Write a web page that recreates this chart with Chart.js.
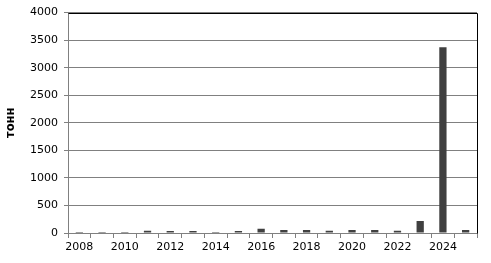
<!DOCTYPE html>
<html>
<head>
<meta charset="utf-8">
<script src="https://cdn.jsdelivr.net/npm/chart.js@4"></script>
<style>
  html, body { margin: 0; padding: 0; background: #fff; }
  #wrap { width: 491px; height: 263px; }
</style>
</head>
<body>
<div id="wrap"><canvas id="myChart" width="491" height="263"></canvas></div>
<script>
const years = ["2008","2009","2010","2011","2012","2013","2014","2015","2016","2017","2018","2019","2020","2021","2022","2023","2024","2025"];
const tonnes = [20, 18, 20, 40, 38, 35, 18, 35, 75, 55, 55, 40, 55, 55, 40, 220, 3370, 55];
const yTicks = [0, 500, 1000, 1500, 2000, 2500, 3000, 3500, 4000];

// black frame on top and right like the original plot area
const framePlugin = {
  id: "frame",
  afterDraw(chart) {
    const { ctx, chartArea: a } = chart;
    ctx.save();
    ctx.strokeStyle = "#000";
    ctx.lineWidth = 1;
    ctx.beginPath();
    ctx.moveTo(Math.round(a.left) + 0.5, Math.round(a.top) + 0.5);
    ctx.lineTo(Math.round(a.right) + 0.5, Math.round(a.top) + 0.5);
    ctx.lineTo(Math.round(a.right) + 0.5, Math.round(a.bottom) + 0.5);
    ctx.stroke();
    ctx.restore();
  },
};

const ctx = document.getElementById("myChart").getContext("2d");
new Chart(ctx, {
  type: "bar",
  data: {
    labels: years,
    datasets: [{
      data: tonnes,
      backgroundColor: "#404040",
      borderWidth: 0,
      barPercentage: 0.32,
      categoryPercentage: 1,
    }],
  },
  options: {
    responsive: false,
    animation: false,
    layout: { padding: { left: 0, top: 10, right: 14, bottom: 0 } },
    plugins: { legend: { display: false }, tooltip: { enabled: false } },
    scales: {
      x: {
        offset: true,
        grid: { offset: true, drawOnChartArea: false, drawTicks: true, tickLength: 5, color: "#808080" },
        border: { color: "#808080" },
        ticks: {
          autoSkip: false,
          maxRotation: 0,
          color: "#000",
          font: { family: "DejaVu Sans", size: 11 },
          padding: 3,
          callback: function (v, i) { return i % 2 === 0 ? years[i] : ""; },
        },
        afterFit: function (s) { s.height = 30; },
      },
      y: {
        min: 0,
        max: 4000,
        afterBuildTicks: function (s) { s.ticks = yTicks.map((v) => ({ value: v })); },
        grid: { color: "#808080", drawTicks: true, tickLength: 4 },
        border: { color: "#808080" },
        ticks: {
          color: "#000",
          font: { family: "DejaVu Sans", size: 11 },
          padding: 6,
          callback: function (v) { return String(v); },
        },
        title: {
          display: true,
          text: "тонн",
          color: "#000",
          font: { family: "DejaVu Sans", size: 11.5, weight: "bold" },
          padding: { top: 4, bottom: 8 },
        },
        afterFit: function (s) { s.width = 68; },
      },
    },
  },
  plugins: [framePlugin],
});
</script>
</body>
</html>
